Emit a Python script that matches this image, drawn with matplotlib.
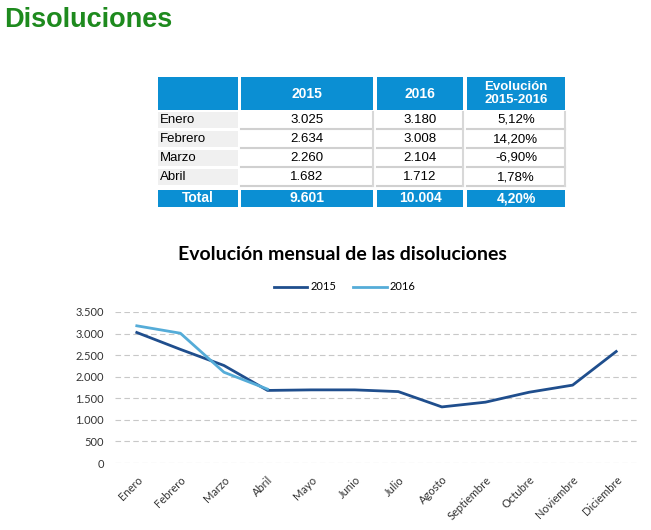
import matplotlib
matplotlib.use('Agg')
import matplotlib.pyplot as plt
from matplotlib.patches import Rectangle

# datos
meses = ['Enero', 'Febrero', 'Marzo', 'Abril', 'Mayo', 'Junio', 'Julio',
         'Agosto', 'Septiembre', 'Octubre', 'Noviembre', 'Diciembre']
serie_2015 = [3025, 2634, 2260, 1682, 1695, 1695, 1655, 1300, 1410, 1640, 1805, 2585]
serie_2016 = [3180, 3008, 2104, 1712]

tabla_meses = ['Enero', 'Febrero', 'Marzo', 'Abril']
tabla_2015 = [3025, 2634, 2260, 1682]
tabla_2016 = [3180, 3008, 2104, 1712]

AZUL = '#0b8fd3'
C2015 = '#1f4e8d'
C2016 = '#55acd8'


def miles(v):
    return '{:,}'.format(int(v)).replace(',', '.')


def pct(v):
    return '{:.2f}%'.format(v).replace('.', ',')


def main():
    fig = plt.figure(figsize=(6.51, 5.30), dpi=100)

    # capa en pixeles para el titulo y la tabla
    bg = fig.add_axes([0, 0, 1, 1])
    bg.set_xlim(0, 651)
    bg.set_ylim(530, 0)
    bg.axis('off')

    bg.text(4, 20, 'Disoluciones', color='#1e8a1e', fontsize=19.5, fontweight='bold',
            family='Liberation Sans', va='center', ha='left')

    cols = [(158, 238), (241, 373), (377, 463), (467, 565)]
    filas = [(112, 128), (131, 147), (150, 166), (169, 185)]

    # cabecera
    for x0, x1 in cols:
        bg.add_patch(Rectangle((x0, 77), x1 - x0, 33, color=AZUL, lw=0))
    cab = ['2015', '2016', 'Evolución\n2015-2016']
    for (x0, x1), t in zip(cols[1:], cab):
        fs = 9.5 if '\n' in t else 10
        bg.text((x0 + x1) / 2, 93.5, t, color='white', fontsize=fs, fontweight='bold',
                family='Liberation Sans', ha='center', va='center', linespacing=1.15)

    # filas de datos
    for i, (y0, y1) in enumerate(filas):
        bg.add_patch(Rectangle((cols[0][0], y0), cols[0][1] - cols[0][0], y1 - y0,
                               color='#f0f0f0', lw=0))
        for x0, x1 in cols[1:]:
            bg.plot([x0, x1], [y1 + 1, y1 + 1], color='#d0d0d0', lw=1.5)
            bg.plot([x1, x1], [y0, y1 + 1], color='#d8d8d8', lw=1.5)
        evol = (tabla_2016[i] / tabla_2015[i] - 1) * 100
        yc = (y0 + y1) / 2
        bg.text(160, yc, tabla_meses[i], fontsize=9.5, family='Liberation Sans',
                ha='left', va='center', color='black')
        vals = [miles(tabla_2015[i]), miles(tabla_2016[i]), pct(evol)]
        for (x0, x1), t in zip(cols[1:], vals):
            bg.text((x0 + x1) / 2, yc, t, fontsize=9.5, family='Liberation Sans',
                    ha='center', va='center', color='black')

    # total
    t15 = sum(tabla_2015)
    t16 = sum(tabla_2016)
    tot = ['Total', miles(t15), miles(t16), pct((t16 / t15 - 1) * 100)]
    for (x0, x1), t in zip(cols, tot):
        bg.add_patch(Rectangle((x0, 190), x1 - x0, 17, color=AZUL, lw=0))
        bg.text((x0 + x1) / 2, 198.5, t, color='white', fontsize=10, fontweight='bold',
                family='Liberation Sans', ha='center', va='center')

    # titulo del grafico
    bg.text(342, 254, 'Evolución mensual de las disoluciones', fontsize=14,
            fontweight='bold', family='Lato', ha='center', va='center', color='black')

    # grafico de lineas
    ax = fig.add_axes([115 / 651, (530 - 463) / 530, (638 - 115) / 651, 151 / 530])
    ax.plot(range(len(serie_2015)), serie_2015, color=C2015, lw=2, label='2015')
    ax.plot(range(len(serie_2016)), serie_2016, color=C2016, lw=2, label='2016')
    ax.set_xlim(-0.5, 11.5)
    ax.set_ylim(0, 3500)
    ax.set_yticks(range(0, 3501, 500))
    ax.set_yticklabels([miles(v) for v in range(0, 3501, 500)])
    ax.set_xticks(range(len(meses)))
    ax.set_xticklabels(meses, rotation=45, ha='right', rotation_mode='anchor')
    ax.grid(axis='y', color='#c8c8c8', ls=(0, (5, 3)), lw=0.8)
    ax.set_axisbelow(True)
    for s in ax.spines.values():
        s.set_visible(False)
    ax.tick_params(length=0, labelsize=8, labelcolor='#333333', pad=8)
    for lab in ax.get_yticklabels():
        lab.set_family('Lato')
    for lab in ax.get_xticklabels():
        lab.set_family('Lato')

    ax.legend(loc='center', bbox_to_anchor=(345 / 651, 1 - 287 / 530),
              bbox_transform=fig.transFigure, ncol=2, frameon=False,
              handlelength=3, columnspacing=1.5, handletextpad=0.3,
              prop={'family': 'Lato', 'size': 8})

    fig.savefig('out.png', dpi=100)


if __name__ == '__main__':
    main()
